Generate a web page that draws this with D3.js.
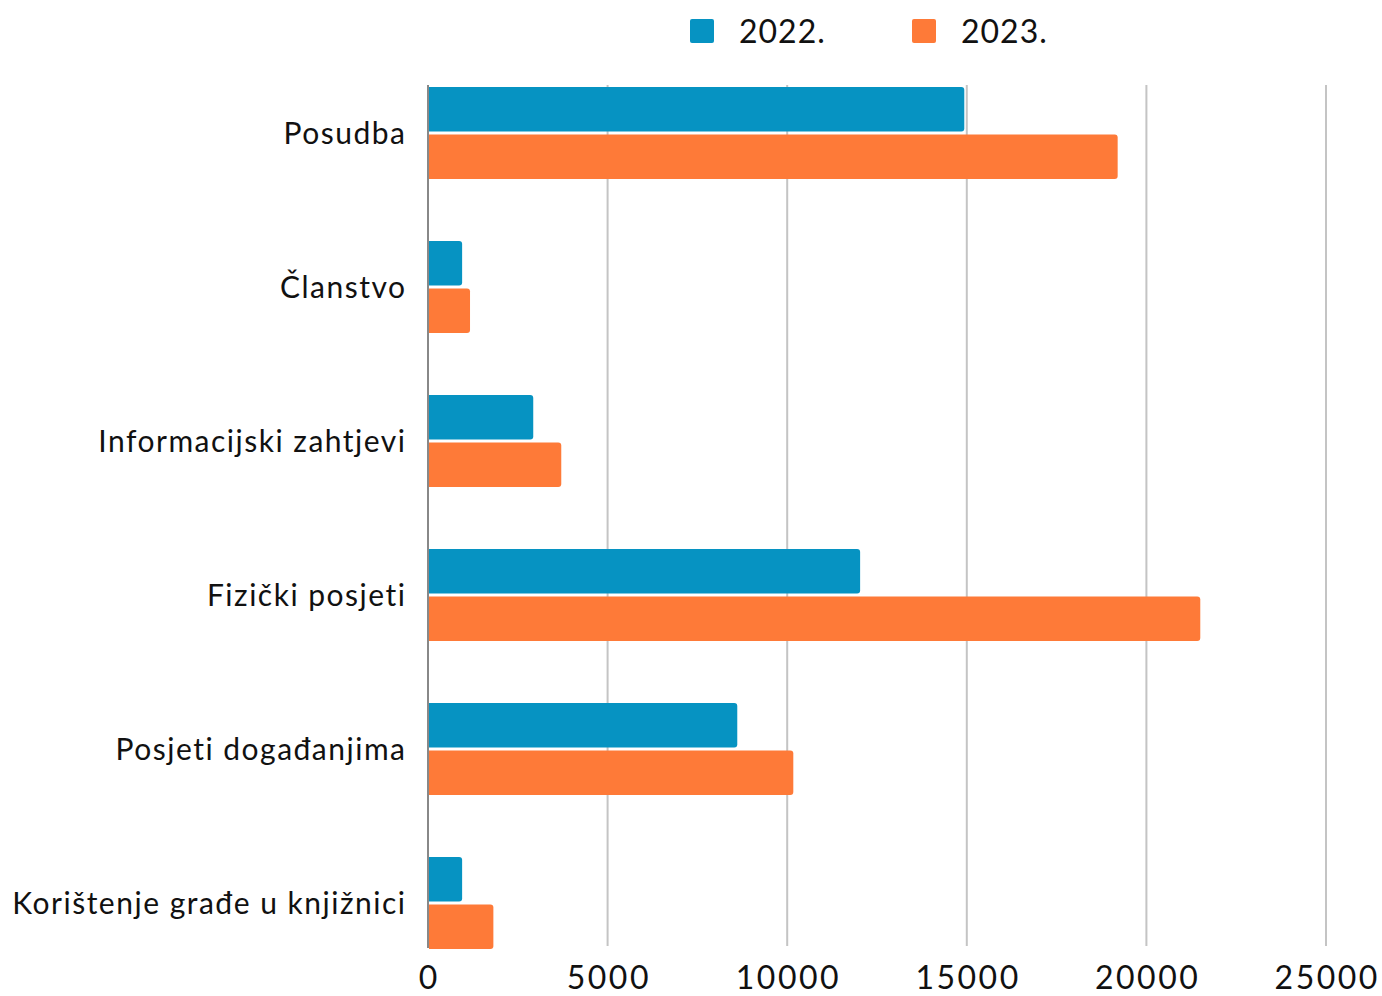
<!DOCTYPE html>
<html>
<head>
<meta charset="utf-8">
<script src="https://cdn.jsdelivr.net/npm/d3@7"></script>
<style>
  body { margin: 0; background: #fff; }
  svg { font-family: Lato, "Open Sans", sans-serif; }
</style>
</head>
<body>
<svg width="1382" height="996"></svg>
<script>
// categories and series
var categories = ["Posudba", "Članstvo", "Informacijski zahtjevi", "Fizički posjeti", "Posjeti događanjima", "Korištenje građe u knjižnici"];
var seriesNames = ["2022.", "2023."];
var values2022 = [14930, 950, 2930, 12030, 8610, 950];
var values2023 = [19200, 1170, 3710, 21500, 10170, 1820];
var xTicks = [0, 5000, 10000, 15000, 20000, 25000];
var colors = ["#0693c2", "#fe7a38"];

var svg = d3.select("svg"),
    left = 428,
    right = 1326,
    gridTop = 85,
    gridBottom = 946;

var x = d3.scaleLinear().domain([0, 25000]).range([left, right]);
var y = d3.scaleBand().domain(categories).range([56, 980]);
var sub = d3.scaleBand().domain(seriesNames).range([31, 123]).paddingInner(0.06);

// gridlines
svg.append("g")
    .selectAll("line")
    .data(xTicks.slice(1))
    .enter()
    .append("line")
    .attr("x1", function(d) { return x(d); })
    .attr("x2", function(d) { return x(d); })
    .attr("y1", gridTop)
    .attr("y2", gridBottom)
    .attr("stroke", "#c4c4c4")
    .attr("stroke-width", 2);

// tick labels (shifted by half the trailing letter-spacing)
svg.append("g")
    .selectAll("text")
    .data(xTicks)
    .enter()
    .append("text")
    .attr("x", function(d) { return x(d) + 1.25; })
    .attr("y", 989)
    .attr("text-anchor", "middle")
    .attr("font-size", 32)
    .attr("letter-spacing", 2.5)
    .attr("fill", "#111")
    .text(function(d) { return d; });

// bars
var rows = categories.map(function(c, i) {
    return { cat: c, vals: [values2022[i], values2023[i]] };
});

var groups = svg.append("g")
    .selectAll("g")
    .data(rows)
    .enter()
    .append("g")
    .attr("transform", function(d) { return "translate(0," + y(d.cat) + ")"; });

groups.selectAll("path")
    .data(function(d) {
        return d.vals.map(function(v, j) { return { name: seriesNames[j], v: v, j: j }; });
    })
    .enter()
    .append("path")
    .attr("fill", function(d) { return colors[d.j]; })
    .attr("d", function(d) {
        var x0 = left + 1, x1 = x(d.v), y0 = sub(d.name), h = sub.bandwidth(), r = 3;
        return "M" + x0 + "," + y0 +
            "H" + (x1 - r) + "Q" + x1 + "," + y0 + " " + x1 + "," + (y0 + r) +
            "V" + (y0 + h - r) + "Q" + x1 + "," + (y0 + h) + " " + (x1 - r) + "," + (y0 + h) +
            "H" + x0 + "Z";
    });

// category labels
svg.append("g")
    .selectAll("text")
    .data(categories)
    .enter()
    .append("text")
    .attr("x", 406.5)
    .attr("y", function(d) { return y(d) + y.bandwidth() / 2; })
    .attr("dy", "0.35em")
    .attr("text-anchor", "end")
    .attr("font-size", 30)
    .attr("letter-spacing", 1.5)
    .attr("fill", "#111")
    .text(function(d) { return d; });

// y axis line
svg.append("line")
    .attr("x1", left).attr("x2", left)
    .attr("y1", gridTop).attr("y2", 948)
    .attr("stroke", "#888")
    .attr("stroke-width", 2);

// legend
var legendX = [690, 912];
var legend = svg.append("g")
    .selectAll("g")
    .data(seriesNames)
    .enter()
    .append("g")
    .attr("transform", function(d, i) { return "translate(" + legendX[i] + ",19)"; });

legend.append("rect")
    .attr("width", 24)
    .attr("height", 24)
    .attr("rx", 2)
    .attr("fill", function(d, i) { return colors[i]; });

legend.append("text")
    .attr("x", 49)
    .attr("y", 24)
    .attr("font-size", 32)
    .attr("letter-spacing", 1)
    .attr("fill", "#111")
    .text(function(d) { return d; });
</script>
</body>
</html>
